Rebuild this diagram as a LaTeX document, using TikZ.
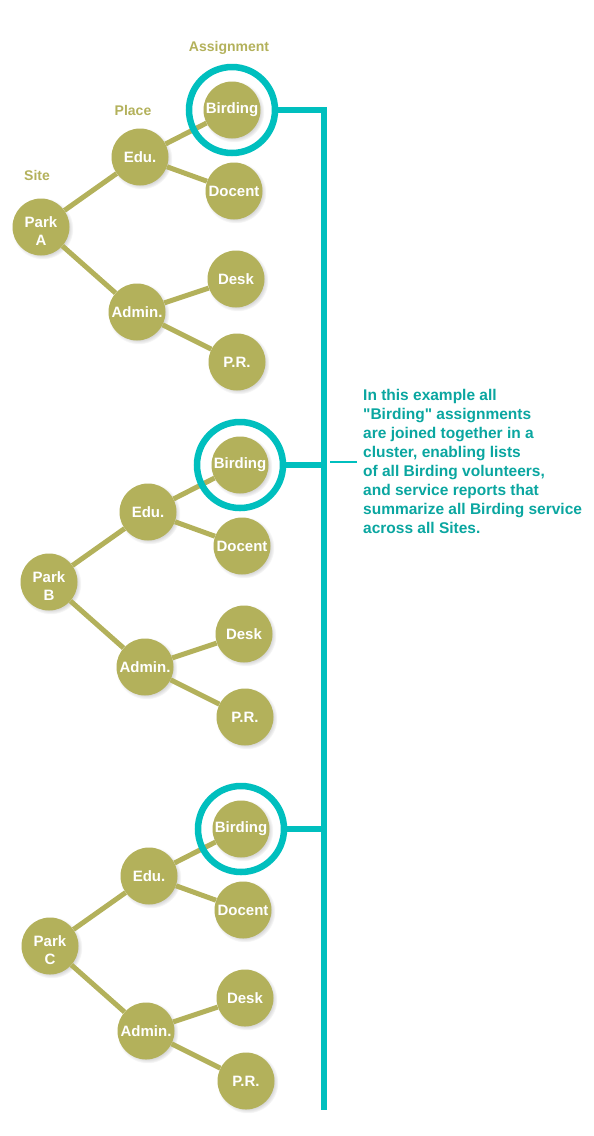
\documentclass[tikz,border=0pt]{standalone}
\usepackage{fontspec}
\setmainfont{Liberation Sans}
\usetikzlibrary{shadows}

\definecolor{parkolive}{HTML}{B3B15B}
\definecolor{ringteal}{HTML}{00BFBE}
\definecolor{noteteal}{HTML}{0AA6A0}

\tikzset{
  unit/.style={circle, fill=parkolive, text=white, inner sep=0pt,
    minimum size=57pt, align=center,
    font=\bfseries\fontsize{15}{18}\selectfont,
    circular drop shadow={shadow xshift=1.5pt, shadow yshift=-1.5pt,
      shadow scale=1.08, opacity=.3}},
  branch/.style={draw=parkolive, line width=5pt},
  ring/.style={circle, draw=ringteal, line width=6.5pt, minimum size=86pt},
  cluster/.style={draw=ringteal, line width=6pt},
  tickline/.style={draw=ringteal, line width=2pt},
  level/.style={text=parkolive, font=\bfseries\fontsize{14}{16}\selectfont},
  note/.style={anchor=north west, inner sep=0pt, align=left, text=noteteal,
    font=\bfseries\fontsize{15.5}{19}\selectfont}
}

\begin{document}
\begin{tikzpicture}[x=1pt,y=-1pt]
 \useasboundingbox (0,0) rectangle (594,1136);
 % level headings
 \node[level] (site) at (37,175) {Site};
 \node[level] (place) at (133,110) {Place};
 \node[level] (assign) at (229,48) {Assignment};
 % one tree per park
 \foreach \t/\px/\py in {A/41/227,B/49/582,C/50/946}{%
   \begin{scope}[shift={(\px,\py)}]
   \node[unit] (park\t) at (0,0) {\raisebox{-4pt}[\height][\depth]{Park}\\
     \raisebox{-4pt}[\height][\depth]{\t}};
   \node[unit] (edu\t) at (99,-70) {Edu.};
   \node[unit] (admin\t) at (96,85) {Admin.};
   \node[unit] (bird\t) at (191,-117) {Birding};
   \node[unit] (docent\t) at (193,-36) {Docent};
   \node[unit] (desk\t) at (195,52) {Desk};
   \node[unit] (pr\t) at (196,135) {P.R.};
   \draw[branch] (park\t) -- (edu\t) (park\t) -- (admin\t)
     (edu\t) -- (bird\t) (edu\t) -- (docent\t)
     (admin\t) -- (desk\t) (admin\t) -- (pr\t);
   \node[ring] (ring\t) at (bird\t) {};
   \end{scope}
 }
 % cluster line
 \coordinate (spinebot) at (324,1110);
 \draw[cluster] (ringA.east) -| (spinebot);
 \draw[cluster] (ringB.east) -- (ringB.east -| spinebot);
 \draw[cluster] (ringC.east) -- (ringC.east -| spinebot);
 % note
 \node[note] (note) at (363,389) {In this example all\\
   \textquotedbl Birding\textquotedbl\ assignments\\
   are joined together in a\\
   cluster, enabling lists\\
   of all Birding volunteers,\\
   and service reports that\\
   summarize all Birding service\\
   across all Sites.};
 \coordinate (tick) at (330,462);
 \draw[tickline, shorten >=6pt] (tick) -- (note.west |- tick);
\end{tikzpicture}
\end{document}
